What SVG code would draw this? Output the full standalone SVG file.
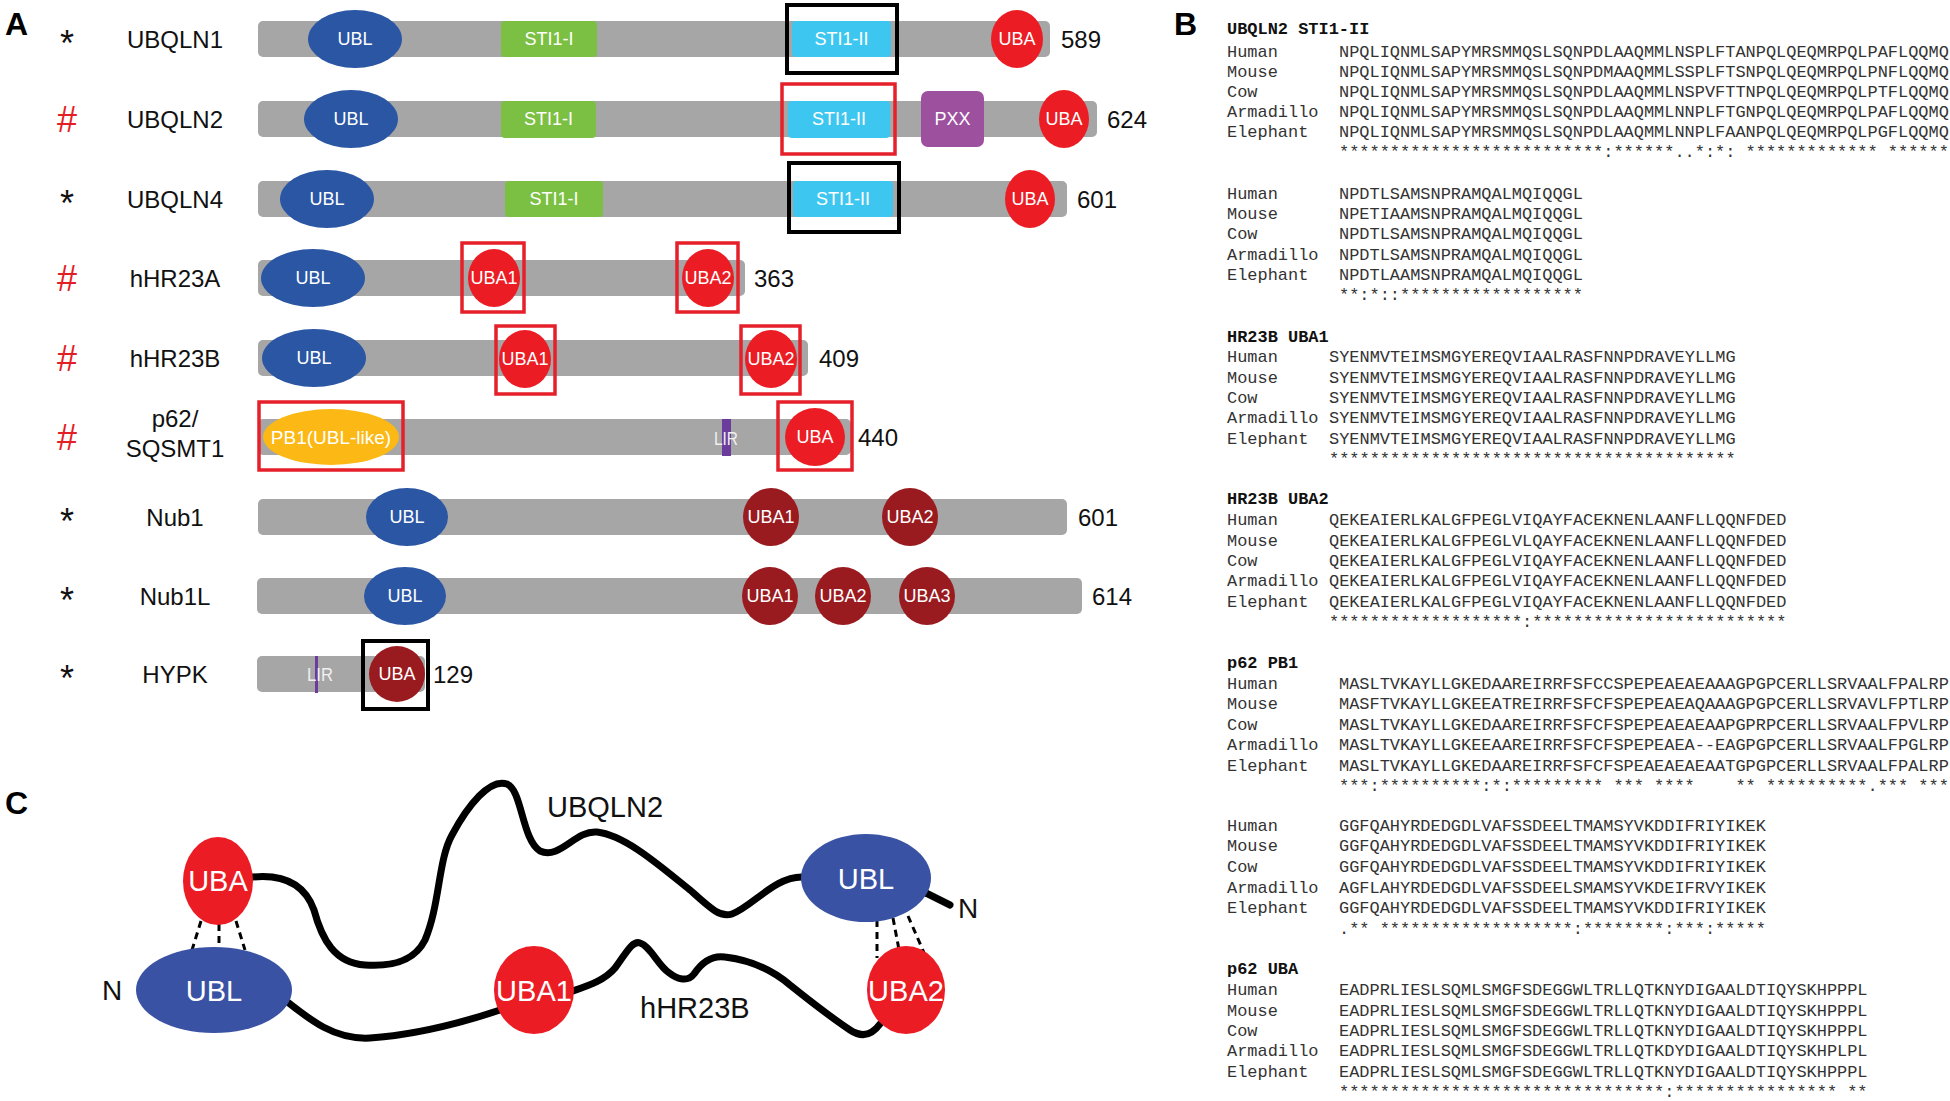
<svg xmlns="http://www.w3.org/2000/svg" width="1950" height="1101" viewBox="0 0 1950 1101">
<style>
.bar{fill:#a6a6a6}
.ubl{fill:#2a56a4}
.uba{fill:#ec1c24}
.dk{fill:#9a1b1f}
.sti1{fill:#7bc043}
.sti2{fill:#3dc7f0}
.pxx{fill:#9c509e}
.pb1{fill:#fcb814}
.lir{fill:#6b3c9b}
.bx{fill:none;stroke:#000;stroke-width:4}
.rbx{fill:none;stroke:#e6202a;stroke-width:3.5}
.dt{font-family:"Liberation Sans",Arial,sans-serif;font-size:18px;fill:#fff;text-anchor:middle}
.lt{font-family:"Liberation Sans",Arial,sans-serif;font-size:18px;fill:#f0f0f0;text-anchor:middle}
.nm{font-family:"Liberation Sans",Arial,sans-serif;font-size:24px;fill:#111;text-anchor:middle}
.len{font-family:"Liberation Sans",Arial,sans-serif;font-size:24px;fill:#111}
.ast{font-family:"Liberation Sans",Arial,sans-serif;font-size:36px;fill:#111;text-anchor:middle}
.hash{font-family:"Liberation Sans",Arial,sans-serif;font-size:36px;fill:#e31e24;text-anchor:middle}
.pl{font-family:"Liberation Sans",Arial,sans-serif;font-size:32px;font-weight:bold;fill:#000}
.mono{font-family:"Liberation Mono","Courier New",monospace;font-size:16.95px;fill:#333;white-space:pre}
.hd{font-weight:bold;fill:#111}
.cn{font-family:"Liberation Sans",Arial,sans-serif;font-size:29px;fill:#fff;text-anchor:middle}
.cl{font-family:"Liberation Sans",Arial,sans-serif;font-size:29px;fill:#111}
.cblue{fill:#3a52a3}
.wire{fill:none;stroke:#000;stroke-width:7;stroke-linecap:round}
.dash{fill:none;stroke:#000;stroke-width:3;stroke-dasharray:7 5}
</style>

<text class="pl" x="5" y="35">A</text>
<text class="pl" x="1174" y="35">B</text>
<text class="pl" x="5" y="814">C</text>

<!-- Panel A -->
<g id="ubqln1" transform="translate(0,39)">
<text class="ast" x="67" y="17">*</text>
<text class="nm" x="175" y="8.5">UBQLN1</text>
<rect class="bar" x="258" y="-18" width="792" height="36" rx="5"/>
<ellipse class="ubl" cx="355" cy="0" rx="47" ry="29"/><text class="dt" x="355" y="6.4">UBL</text>
<rect class="sti1" x="501" y="-18" width="96" height="36" rx="4"/><text class="dt" x="549" y="6.4">STI1-I</text>
<rect class="sti2" x="792" y="-18" width="99" height="36" rx="4"/><text class="dt" x="841.5" y="6.4">STI1-II</text>
<rect class="bx" x="787" y="-34" width="110" height="68"/>
<ellipse class="uba" cx="1017" cy="0" rx="26" ry="29"/><text class="dt" x="1017" y="6.4">UBA</text>
<text class="len" x="1061" y="8.5">589</text>
</g>

<g id="ubqln2" transform="translate(0,119)">
<text class="hash" x="67" y="13">#</text>
<text class="nm" x="175" y="8.5">UBQLN2</text>
<rect class="bar" x="258" y="-18" width="839" height="36" rx="5"/>
<ellipse class="ubl" cx="351" cy="0" rx="47" ry="29"/><text class="dt" x="351" y="6.4">UBL</text>
<rect class="sti1" x="501" y="-18" width="95" height="37" rx="4"/><text class="dt" x="548.5" y="6.4">STI1-I</text>
<rect class="sti2" x="788" y="-18" width="102" height="37" rx="4"/><text class="dt" x="839" y="6.4">STI1-II</text>
<rect class="rbx" x="782" y="-35" width="113" height="70"/>
<rect class="pxx" x="921" y="-28" width="63" height="56" rx="7"/><text class="dt" x="952.5" y="6.4">PXX</text>
<ellipse class="uba" cx="1064" cy="0" rx="25" ry="29"/><text class="dt" x="1064" y="6.4">UBA</text>
<text class="len" x="1107" y="8.5">624</text>
</g>

<g id="ubqln4" transform="translate(0,199)">
<text class="ast" x="67" y="17">*</text>
<text class="nm" x="175" y="8.5">UBQLN4</text>
<rect class="bar" x="258" y="-18" width="809" height="36" rx="5"/>
<ellipse class="ubl" cx="327" cy="0" rx="47" ry="29"/><text class="dt" x="327" y="6.4">UBL</text>
<rect class="sti1" x="505" y="-18" width="98" height="36" rx="4"/><text class="dt" x="554" y="6.4">STI1-I</text>
<rect class="sti2" x="793" y="-18" width="100" height="36" rx="4"/><text class="dt" x="843" y="6.4">STI1-II</text>
<rect class="bx" x="789" y="-36" width="110" height="69"/>
<ellipse class="uba" cx="1030" cy="0" rx="25" ry="29"/><text class="dt" x="1030" y="6.4">UBA</text>
<text class="len" x="1077" y="8.5">601</text>
</g>

<g id="hhr23a" transform="translate(0,278)">
<text class="hash" x="67" y="13">#</text>
<text class="nm" x="175" y="8.5">hHR23A</text>
<rect class="bar" x="258" y="-18" width="487" height="36" rx="5"/>
<ellipse class="ubl" cx="313" cy="0" rx="52" ry="29"/><text class="dt" x="313" y="6.4">UBL</text>
<ellipse class="uba" cx="494" cy="0" rx="26" ry="29"/><text class="dt" x="494" y="6.4">UBA1</text>
<rect class="rbx" x="462" y="-35" width="62" height="69"/>
<ellipse class="uba" cx="708" cy="0" rx="26" ry="29"/><text class="dt" x="708" y="6.4">UBA2</text>
<rect class="rbx" x="677" y="-35" width="61" height="69"/>
<text class="len" x="754" y="8.5">363</text>
</g>

<g id="hhr23b" transform="translate(0,358)">
<text class="hash" x="67" y="13">#</text>
<text class="nm" x="175" y="8.5">hHR23B</text>
<rect class="bar" x="258" y="-18" width="550" height="36" rx="5"/>
<ellipse class="ubl" cx="314" cy="0" rx="52" ry="29"/><text class="dt" x="314" y="6.4">UBL</text>
<ellipse class="uba" cx="525" cy="1" rx="26" ry="29"/><text class="dt" x="525" y="7.4">UBA1</text>
<rect class="rbx" x="496" y="-32" width="59" height="68"/>
<ellipse class="uba" cx="771" cy="1" rx="26" ry="29"/><text class="dt" x="771" y="7.4">UBA2</text>
<rect class="rbx" x="741" y="-32" width="59" height="68"/>
<text class="len" x="819" y="8.5">409</text>
</g>

<g id="p62" transform="translate(0,437)">
<text class="hash" x="67" y="13">#</text>
<text class="nm" x="175" y="-10">p62/</text>
<text class="nm" x="175" y="20">SQSMT1</text>
<rect class="bar" x="258" y="-18" width="593" height="36" rx="5"/>
<ellipse class="pb1" cx="331" cy="0" rx="68" ry="28"/><text class="dt" x="331" y="6.6" style="font-size:19px">PB1(UBL-like)</text>
<rect class="rbx" x="259" y="-35" width="144" height="68"/>
<rect class="lir" x="722" y="-18" width="9" height="37"/>
<text class="lt" x="726" y="8" textLength="24" lengthAdjust="spacingAndGlyphs">LIR</text>
<ellipse class="uba" cx="815" cy="0" rx="30" ry="29"/><text class="dt" x="815" y="6.4">UBA</text>
<rect class="rbx" x="778" y="-35" width="74" height="68"/>
<text class="len" x="858" y="8.5">440</text>
</g>

<g id="nub1" transform="translate(0,517)">
<text class="ast" x="67" y="17">*</text>
<text class="nm" x="175" y="8.5">Nub1</text>
<rect class="bar" x="258" y="-18" width="809" height="36" rx="5"/>
<ellipse class="ubl" cx="407" cy="0" rx="41" ry="29"/><text class="dt" x="407" y="6.4">UBL</text>
<ellipse class="dk" cx="771" cy="0" rx="28" ry="29"/><text class="dt" x="771" y="6.4">UBA1</text>
<ellipse class="dk" cx="910" cy="0" rx="28" ry="29"/><text class="dt" x="910" y="6.4">UBA2</text>
<text class="len" x="1078" y="8.5">601</text>
</g>

<g id="nub1l" transform="translate(0,596)">
<text class="ast" x="67" y="17">*</text>
<text class="nm" x="175" y="8.5">Nub1L</text>
<rect class="bar" x="257" y="-18" width="825" height="36" rx="5"/>
<ellipse class="ubl" cx="405" cy="0" rx="41" ry="29"/><text class="dt" x="405" y="6.4">UBL</text>
<ellipse class="dk" cx="770" cy="0" rx="28" ry="29"/><text class="dt" x="770" y="6.4">UBA1</text>
<ellipse class="dk" cx="843" cy="0" rx="28" ry="29"/><text class="dt" x="843" y="6.4">UBA2</text>
<ellipse class="dk" cx="927" cy="0" rx="28" ry="29"/><text class="dt" x="927" y="6.4">UBA3</text>
<text class="len" x="1092" y="8.5">614</text>
</g>

<g id="hypk" transform="translate(0,674)">
<text class="ast" x="67" y="17">*</text>
<text class="nm" x="175" y="8.5">HYPK</text>
<rect class="bar" x="257" y="-18" width="168" height="36" rx="5"/>
<rect class="lir" x="315" y="-18" width="3" height="37"/>
<text class="lt" x="320" y="7" textLength="26" lengthAdjust="spacingAndGlyphs">LIR</text>
<ellipse class="dk" cx="397" cy="0" rx="28" ry="28"/><text class="dt" x="397" y="6.4">UBA</text>
<rect class="bx" x="363" y="-33" width="65" height="68"/>
<text class="len" x="433" y="8.5">129</text>
</g>

<!-- Panel B -->
<g id="b-sti1ii" class="mono">
<text class="hd" x="1227" y="34">UBQLN2 STI1-II</text>
<text x="1227" y="56.5">Human</text><text x="1339" y="56.5">NPQLIQNMLSAPYMRSMMQSLSQNPDLAAQMMLNSPLFTANPQLQEQMRPQLPAFLQQMQ</text>
<text x="1227" y="76.5">Mouse</text><text x="1339" y="76.5">NPQLIQNMLSAPYMRSMMQSLSQNPDMAAQMMLSSPLFTSNPQLQEQMRPQLPNFLQQMQ</text>
<text x="1227" y="96.5">Cow</text><text x="1339" y="96.5">NPQLIQNMLSAPYMRSMMQSLSQNPDLAAQMMLNSPVFTTNPQLQEQMRPQLPTFLQQMQ</text>
<text x="1227" y="116.5">Armadillo</text><text x="1339" y="116.5">NPQLIQNMLSAPYMRSMMQSLSQNPDLAAQMMLNNPLFTGNPQLQEQMRPQLPAFLQQMQ</text>
<text x="1227" y="136.5">Elephant</text><text x="1339" y="136.5">NPQLIQNMLSAPYMRSMMQSLSQNPDLAAQMMLNNPLFAANPQLQEQMRPQLPGFLQQMQ</text>
<text x="1339" y="157" xml:space="preserve">**************************:******..*:*: ************* ******</text>
</g>
<g id="b-sti1ii-2" class="mono">
<text x="1227" y="198.5">Human</text><text x="1339" y="198.5">NPDTLSAMSNPRAMQALMQIQQGL</text>
<text x="1227" y="218.8">Mouse</text><text x="1339" y="218.8">NPETIAAMSNPRAMQALMQIQQGL</text>
<text x="1227" y="239.1">Cow</text><text x="1339" y="239.1">NPDTLSAMSNPRAMQALMQIQQGL</text>
<text x="1227" y="259.5">Armadillo</text><text x="1339" y="259.5">NPDTLSAMSNPRAMQALMQIQQGL</text>
<text x="1227" y="279.8">Elephant</text><text x="1339" y="279.8">NPDTLAAMSNPRAMQALMQIQQGL</text>
<text x="1339" y="300.2" xml:space="preserve">**:*::******************</text>
</g>
<g id="b-uba1" class="mono">
<text class="hd" x="1227" y="341.7">HR23B UBA1</text>
<text x="1227" y="362.3">Human</text><text x="1329" y="362.3">SYENMVTEIMSMGYEREQVIAALRASFNNPDRAVEYLLMG</text>
<text x="1227" y="382.6">Mouse</text><text x="1329" y="382.6">SYENMVTEIMSMGYEREQVIAALRASFNNPDRAVEYLLMG</text>
<text x="1227" y="402.9">Cow</text><text x="1329" y="402.9">SYENMVTEIMSMGYEREQVIAALRASFNNPDRAVEYLLMG</text>
<text x="1227" y="423.2">Armadillo</text><text x="1329" y="423.2">SYENMVTEIMSMGYEREQVIAALRASFNNPDRAVEYLLMG</text>
<text x="1227" y="443.5">Elephant</text><text x="1329" y="443.5">SYENMVTEIMSMGYEREQVIAALRASFNNPDRAVEYLLMG</text>
<text x="1329" y="463.8" xml:space="preserve">****************************************</text>
</g>
<g id="b-uba2" class="mono">
<text class="hd" x="1227" y="504">HR23B UBA2</text>
<text x="1227" y="525">Human</text><text x="1329" y="525">QEKEAIERLKALGFPEGLVIQAYFACEKNENLAANFLLQQNFDED</text>
<text x="1227" y="545.5">Mouse</text><text x="1329" y="545.5">QEKEAIERLKALGFPEGLVLQAYFACEKNENLAANFLLQQNFDED</text>
<text x="1227" y="566">Cow</text><text x="1329" y="566">QEKEAIERLKALGFPEGLVIQAYFACEKNENLAANFLLQQNFDED</text>
<text x="1227" y="586.3">Armadillo</text><text x="1329" y="586.3">QEKEAIERLKALGFPEGLVIQAYFACEKNENLAANFLLQQNFDED</text>
<text x="1227" y="606.6">Elephant</text><text x="1329" y="606.6">QEKEAIERLKALGFPEGLVIQAYFACEKNENLAANFLLQQNFDED</text>
<text x="1329" y="627" xml:space="preserve">*******************:*************************</text>
</g>
<g id="b-pb1" class="mono">
<text class="hd" x="1227" y="668">p62 PB1</text>
<text x="1227" y="688.5">Human</text><text x="1339" y="688.5">MASLTVKAYLLGKEDAAREIRRFSFCCSPEPEAEAEAAAGPGPCERLLSRVAALFPALRP</text>
<text x="1227" y="709">Mouse</text><text x="1339" y="709">MASFTVKAYLLGKEEATREIRRFSFCFSPEPEAEAQAAAGPGPCERLLSRVAVLFPTLRP</text>
<text x="1227" y="729.5">Cow</text><text x="1339" y="729.5">MASLTVKAYLLGKEDAAREIRRFSFCFSPEPEAEAEAAPGPRPCERLLSRVAALFPVLRP</text>
<text x="1227" y="750">Armadillo</text><text x="1339" y="750">MASLTVKAYLLGKEEAAREIRRFSFCFSPEPEAEA--EAGPGPCERLLSRVAALFPGLRP</text>
<text x="1227" y="770.5">Elephant</text><text x="1339" y="770.5">MASLTVKAYLLGKEDAAREIRRFSFCFSPEAEAEAEAATGPGPCERLLSRVAALFPALRP</text>
<text x="1339" y="791" xml:space="preserve">***:**********:*:********* *** ****    ** **********.*** ***</text>
</g>
<g id="b-pb1-2" class="mono">
<text x="1227" y="830.5">Human</text><text x="1339" y="830.5">GGFQAHYRDEDGDLVAFSSDEELTMAMSYVKDDIFRIYIKEK</text>
<text x="1227" y="851.2">Mouse</text><text x="1339" y="851.2">GGFQAHYRDEDGDLVAFSSDEELTMAMSYVKDDIFRIYIKEK</text>
<text x="1227" y="871.9">Cow</text><text x="1339" y="871.9">GGFQAHYRDEDGDLVAFSSDEELTMAMSYVKDDIFRIYIKEK</text>
<text x="1227" y="892.6">Armadillo</text><text x="1339" y="892.6">AGFLAHYRDEDGDLVAFSSDEELSMAMSYVKDEIFRVYIKEK</text>
<text x="1227" y="913.3">Elephant</text><text x="1339" y="913.3">GGFQAHYRDEDGDLVAFSSDEELTMAMSYVKDDIFRIYIKEK</text>
<text x="1339" y="934" xml:space="preserve">.** *******************:********:***:*****</text>
</g>
<g id="b-uba" class="mono">
<text class="hd" x="1227" y="974">p62 UBA</text>
<text x="1227" y="995">Human</text><text x="1339" y="995">EADPRLIESLSQMLSMGFSDEGGWLTRLLQTKNYDIGAALDTIQYSKHPPPL</text>
<text x="1227" y="1015.5">Mouse</text><text x="1339" y="1015.5">EADPRLIESLSQMLSMGFSDEGGWLTRLLQTKNYDIGAALDTIQYSKHPPPL</text>
<text x="1227" y="1036">Cow</text><text x="1339" y="1036">EADPRLIESLSQMLSMGFSDEGGWLTRLLQTKNYDIGAALDTIQYSKHPPPL</text>
<text x="1227" y="1056.3">Armadillo</text><text x="1339" y="1056.3">EADPRLIESLSQMLSMGFSDEGGWLTRLLQTKDYDIGAALDTIQYSKHPLPL</text>
<text x="1227" y="1076.6">Elephant</text><text x="1339" y="1076.6">EADPRLIESLSQMLSMGFSDEGGWLTRLLQTKNYDIGAALDTIQYSKHPPPL</text>
<text x="1339" y="1097" xml:space="preserve">********************************:**************** **</text>
</g>

<!-- Panel C -->
<g id="connectors">
<path class="wire" d="M253,877 C285,874 305,885 314,910 C322,940 335,963 365,965 C395,967 415,960 425,940 C440,905 438,860 452,835 C468,805 490,778 507,784 C522,790 522,840 540,851 C560,860 575,830 597,832 C625,835 660,866 690,890 C710,908 720,918 732,914 C752,907 775,876 803,877"/>
<path class="wire" d="M285,1000 C310,1020 335,1040 370,1038 C400,1036 440,1030 500,1010"/>
<path class="wire" d="M570,992 C590,985 605,980 615,968 C625,955 632,940 640,943 C650,946 658,965 668,972 C678,980 688,982 694,974 C702,962 712,955 725,957 C750,960 770,968 790,985 C815,1005 835,1020 850,1030 C862,1038 872,1035 880,1024"/>
<path class="wire" d="M926,893 L950,905" stroke-linecap="butt"/>
<path class="dash" d="M201,921 L192,950 M219,924 L219,950 M236,921 L245,950"/>
<path class="dash" d="M877,920 L877,958 M893,918 L900,955 M908,916 L925,955"/>
</g>
<g id="c-uba">
<ellipse class="uba" cx="218" cy="881" rx="35" ry="44"/><text class="cn" x="218" y="891">UBA</text>
</g>
<g id="c-ubl-left">
<ellipse class="cblue" cx="214" cy="990" rx="78" ry="43"/><text class="cn" x="214" y="1001">UBL</text>
</g>
<g id="c-uba1">
<ellipse class="uba" cx="534" cy="990" rx="40" ry="44"/><text class="cn" x="534" y="1001">UBA1</text>
</g>
<g id="c-ubl-right">
<ellipse class="cblue" cx="866" cy="878" rx="65" ry="44"/><text class="cn" x="866" y="889">UBL</text>
</g>
<g id="c-uba2">
<ellipse class="uba" cx="906" cy="990" rx="39" ry="44"/><text class="cn" x="906" y="1001">UBA2</text>
</g>
<text class="cl" x="112" y="1000" text-anchor="middle" style="font-size:28px">N</text>
<text class="cl" x="968" y="918" text-anchor="middle" style="font-size:28px">N</text>
<text class="cl" x="547" y="817">UBQLN2</text>
<text class="cl" x="640" y="1018">hHR23B</text>
</svg>
